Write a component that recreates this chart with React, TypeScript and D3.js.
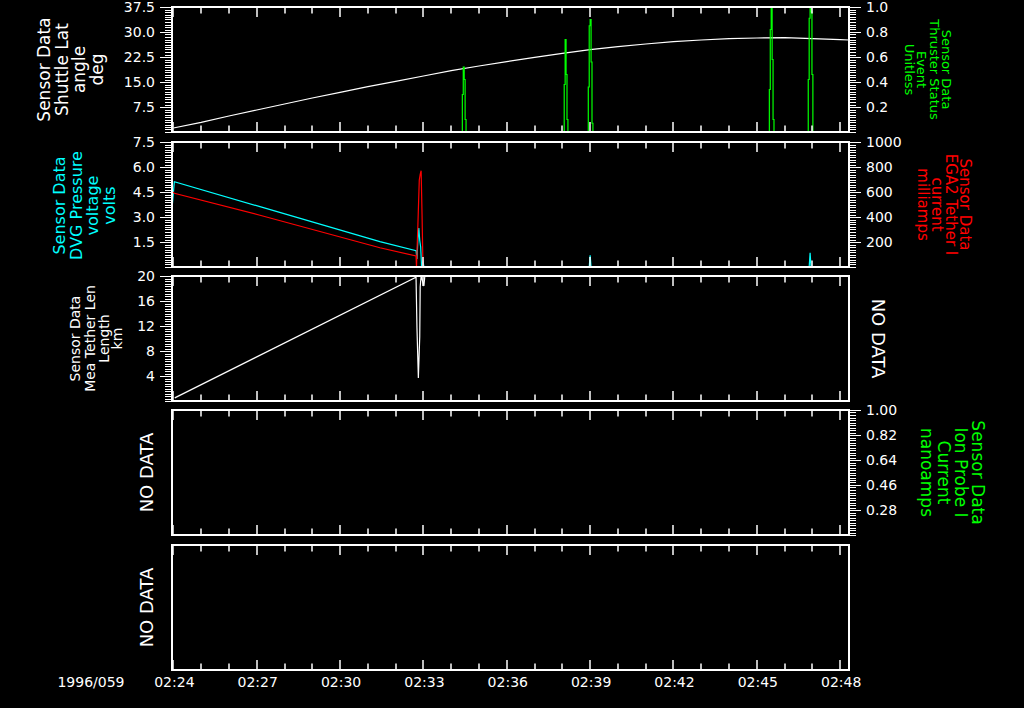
import React from "react";
import * as d3 from "d3";

// ---------- layout constants ----------
const W = 1024;
const H = 708;
const X0 = 172;
const X1 = 849;
const PANEL_TOPS = [7, 142, 276, 410, 545];
const PH = 125;
const FONT = "'DejaVu Sans', Verdana, sans-serif";

// ---------- data ----------
const dateLabel = "1996/059";
const timeStart = "02:23:57";
const timeEnd = "02:48:19";

// Panel 1: Shuttle Lat (deg, left axis)
const latTimes = [
  "02:24:00", "02:25:00", "02:26:00", "02:27:00", "02:28:00", "02:29:00", "02:30:00",
  "02:31:00", "02:32:00", "02:33:00", "02:34:00", "02:35:00", "02:36:00", "02:37:00",
  "02:38:00", "02:39:00", "02:40:00", "02:41:00", "02:42:00", "02:43:00", "02:44:00",
  "02:45:00", "02:46:00", "02:47:00", "02:48:00", "02:48:19",
];
const latValues = [
  1.2, 2.9, 4.8, 6.6, 8.4, 10.2, 11.9, 13.6, 15.2, 16.8, 18.4, 19.8, 21.1, 22.4,
  23.6, 24.7, 25.6, 26.4, 27.1, 27.6, 28.0, 28.2, 28.3, 28.0, 27.7, 27.6,
];
// Panel 1: Thruster Status events (unitless, right axis), bursts sampled every 2 s
const thrusterStarts = ["02:34:24", "02:38:04", "02:38:56", "02:45:27", "02:46:51"];
const thrusterValues = [
  [0.3, 0.52, 0.42, 0.1],
  [0.38, 0.74, 0.46, 0.1],
  [0.36, 0.85, 0.9, 0.56, 0.07],
  [0.34, 0.82, 0.99, 0.58, 0.1],
  [0.42, 0.91, 1.0, 0.96, 0.46],
];

// Panel 2: DVG Pressure voltage (volts, left) and EGA2 Tether I current (mA, right)
const dvgTimes = [
  "02:23:58", "02:24:02", "02:27:07", "02:31:26", "02:32:44", "02:32:46", "02:32:48",
  "02:32:50", "02:32:52", "02:32:54", "02:32:56", "02:32:59", "02:33:01", "02:38:58",
  "02:39:00", "02:39:02", "02:46:53", "02:46:55", "02:46:57", "02:48:19",
];
const dvgValues = [
  3.8, 5.12, 3.62, 1.52, 0.98, 0.48, 1.6, 2.34, 1.6, 1.2, 0, 0.4, 0, 0, 0.7, 0, 0, 0.85, 0, 0,
];
const egaTimes = [
  "02:23:58", "02:24:02", "02:27:07", "02:31:26", "02:32:44", "02:32:45", "02:32:48",
  "02:32:51", "02:32:53", "02:32:55", "02:32:57", "02:32:59", "02:48:19",
];
const egaValues = [602, 590, 414, 154, 88, 0, 336, 696, 742, 770, 416, 0, 0];

// Panel 3: Mea Tether Len (km)
const tetherTimes = [
  "02:24:03", "02:32:44", "02:32:46", "02:32:49", "02:32:52", "02:32:53", "02:32:55",
  "02:33:01", "02:33:03",
];
const tetherValues = [0.5, 19.8, 11.7, 3.7, 10.3, 18.3, 20, 18.4, 20];

// axis ticks
const latTicks = [7.5, 15, 22.5, 30, 37.5];
const thrusterTicks = [0.2, 0.4, 0.6, 0.8, 1.0];
const dvgTicks = [1.5, 3.0, 4.5, 6.0, 7.5];
const egaTicks = [200, 400, 600, 800, 1000];
const tetherTicks = [4, 8, 12, 16, 20];
const ionTicks = [0.28, 0.46, 0.64, 0.82, 1.0];

// labels
const latLabel = ["Sensor Data", "Shuttle Lat", "angle", "deg"];
const thrusterLabel = ["Sensor Data", "Thruster Status", "Event", "Unitless"];
const dvgLabel = ["Sensor Data", "DVG Pressure", "voltage", "volts"];
const egaLabel = ["Sensor Data", "EGA2 Tether I", "current", "milliamps"];
const tetherLabel = ["Sensor Data", "Mea Tether Len", "Length", "km"];
const ionLabel = ["Sensor Data", "Ion Probe I", "Current", "nanoamps"];
const noData = "NO DATA";

// ---------- helpers ----------
const parse = (s: string) => new Date(`1996-02-28T${s}Z`);
const x = d3.scaleUtc().domain([parse(timeStart), parse(timeEnd)]).range([X0, X1]);

const yScale = (i: number, d0: number, d1: number) =>
  d3.scaleLinear().domain([d0, d1]).range([PANEL_TOPS[i] + PH, PANEL_TOPS[i]]);

const yLat = yScale(0, 0, 37.5);
const yThr = yScale(0, 0, 1.0);
const yDvg = yScale(1, 0, 7.5);
const yEga = yScale(1, 0, 1000);
const yTet = yScale(2, 0, 20);
const yIon = yScale(3, 0.1, 1.0);

function seriesPath(times: string[], vals: number[], y: d3.ScaleLinear<number, number>) {
  const pts: [number, number][] = times.map((t, i) => [x(parse(t)), y(vals[i])]);
  return d3.line().curve(d3.curveLinear)(pts) || "";
}

function burstPath(start: string, vals: number[], y: d3.ScaleLinear<number, number>) {
  const t0 = parse(start).getTime();
  const pts: [number, number][] = [[x(new Date(t0 - 1000)), y(0)]];
  vals.forEach((v, i) => pts.push([x(new Date(t0 + i * 2000)), y(v)]));
  pts.push([x(new Date(t0 + vals.length * 2000)), y(0)]);
  return d3.line().curve(d3.curveStepAfter)(pts) || "";
}

function Ruler(props: {
  y: d3.ScaleLinear<number, number>;
  side: "left" | "right";
  ticks: number[];
  fmt: (v: number) => string;
}) {
  const { y, side, ticks, fmt } = props;
  const [d0, d1] = y.domain();
  const step = (d1 - d0) / 50;
  const minors = d3.range(51).map((i) => d0 + i * step);
  const dir = side === "left" ? -1 : 1;
  const x0 = side === "left" ? X0 : X1;
  const py = (v: number) => Math.round(y(v)) + 0.5;
  return (
    <g>
      {minors.map((v, i) => (
        <line key={"m" + i} x1={x0} x2={x0 + dir * 7} y1={py(v)} y2={py(v)} stroke="#fff" strokeWidth={1} shapeRendering="crispEdges" />
      ))}
      {ticks.map((v, i) => (
        <line key={"M" + i} x1={x0} x2={x0 + dir * 12} y1={py(v)} y2={py(v)} stroke="#fff" strokeWidth={1.5} shapeRendering="crispEdges" />
      ))}
      {ticks.map((v, i) => (
        <text key={"t" + i} x={x0 + dir * 17} y={y(v)} dy="0.36em" fill="#fff" fontSize={14} fontFamily={FONT}
          textAnchor={side === "left" ? "end" : "start"}>{fmt(v)}</text>
      ))}
    </g>
  );
}

function Label(props: { lines: string[]; baselines: number[]; cy: number; side: "left" | "right"; color: string; size: number }) {
  const { lines, baselines, cy, side, color, size } = props;
  return (
    <g>
      {lines.map((s, i) => (
        <text key={i} transform={`translate(${baselines[i]},${cy}) rotate(${side === "left" ? -90 : 90})`}
          textAnchor="middle" fill={color} fontSize={size} fontFamily={FONT}>{s}</text>
      ))}
    </g>
  );
}

function Frame({ i }: { i: number }) {
  const top = PANEL_TOPS[i];
  const bot = top + PH;
  const minutes = x.ticks(d3.utcMinute.every(1) as any);
  return (
    <g>
      <rect x={X0} y={top} width={X1 - X0} height={PH} fill="none" stroke="#fff" strokeWidth={2} />
      {minutes.map((m, k) => {
        const major = m.getUTCMinutes() % 3 === 0;
        const len = major ? 10 : 6.5;
        const xx = Math.round(x(m));
        return (
          <g key={k}>
            <line x1={xx} x2={xx} y1={top} y2={top + len} stroke="#fff" strokeWidth={1.5} />
            <line x1={xx} x2={xx} y1={bot} y2={bot - len} stroke="#fff" strokeWidth={1.5} />
          </g>
        );
      })}
    </g>
  );
}

export default function App() {
  const f1 = (v: number) => v.toFixed(1);
  const f0 = (v: number) => v.toFixed(0);
  const f2 = (v: number) => v.toFixed(2);
  const bottom = PANEL_TOPS[4] + PH;
  const majorTimes = x.ticks(d3.utcMinute.every(3) as any);
  const fmtTime = d3.utcFormat("%H:%M");
  const cy = (i: number) => PANEL_TOPS[i] + PH / 2;
  return (
    <svg width={W} height={H} style={{ position: "absolute", left: 0, top: 0, background: "#000" }}>
      <rect x={0} y={0} width={W} height={H} fill="#000" />
      <defs>
        {PANEL_TOPS.map((t, i) => (
          <clipPath id={"clip" + i} key={i}>
            <rect x={X0} y={t} width={X1 - X0} height={PH} />
          </clipPath>
        ))}
      </defs>

      {/* Panel 1 data */}
      <g clipPath="url(#clip0)">
        <path d={seriesPath(latTimes, latValues, yLat)} fill="none" stroke="#fff" strokeWidth={1.2} />
        {thrusterStarts.map((s, i) => (
          <path key={i} d={burstPath(s, thrusterValues[i], yThr)} fill="none" stroke="#00ff00" strokeWidth={1.2} />
        ))}
      </g>
      {/* Panel 2 data */}
      <g clipPath="url(#clip1)">
        <path d={seriesPath(dvgTimes, dvgValues, yDvg)} fill="none" stroke="#00ffff" strokeWidth={1.2} />
        <path d={seriesPath(egaTimes, egaValues, yEga)} fill="none" stroke="#ff0000" strokeWidth={1.2} />
      </g>
      {/* Panel 3 data */}
      <g clipPath="url(#clip2)">
        <path d={seriesPath(tetherTimes, tetherValues, yTet)} fill="none" stroke="#fff" strokeWidth={1.2} />
      </g>

      {PANEL_TOPS.map((_, i) => <Frame key={i} i={i} />)}

      <Ruler y={yLat} side="left" ticks={latTicks} fmt={f1} />
      <Ruler y={yThr} side="right" ticks={thrusterTicks} fmt={f1} />
      <Ruler y={yDvg} side="left" ticks={dvgTicks} fmt={f1} />
      <Ruler y={yEga} side="right" ticks={egaTicks} fmt={f0} />
      <Ruler y={yTet} side="left" ticks={tetherTicks} fmt={f0} />
      <Ruler y={yIon} side="right" ticks={ionTicks} fmt={f2} />

      <Label lines={latLabel} baselines={[50, 67.5, 85, 102.5]} cy={cy(0)} side="left" color="#fff" size={17} />
      <Label lines={thrusterLabel} baselines={[942, 929.5, 917, 904.5]} cy={cy(0)} side="right" color="#00ff00" size={13} />
      <Label lines={dvgLabel} baselines={[65, 81.5, 98, 114.5]} cy={cy(1) + 1} side="left" color="#00ffff" size={16} />
      <Label lines={egaLabel} baselines={[960, 946, 932, 918]} cy={cy(1)} side="right" color="#ff0000" size={15} />
      <Label lines={tetherLabel} baselines={[80, 94.5, 108.5, 122]} cy={cy(2)} side="left" color="#fff" size={14} />
      <Label lines={[noData]} baselines={[872]} cy={cy(2)} side="right" color="#fff" size={18} />
      <Label lines={[noData]} baselines={[153]} cy={cy(3)} side="left" color="#fff" size={18} />
      <Label lines={ionLabel} baselines={[972, 955, 938, 921]} cy={cy(3)} side="right" color="#00ff00" size={17} />
      <Label lines={[noData]} baselines={[153]} cy={cy(4)} side="left" color="#fff" size={18} />

      {majorTimes.map((t, i) => (
        <text key={i} x={x(t) + 1} y={bottom + 17} textAnchor="middle" fill="#fff" fontSize={14} fontFamily={FONT}>
          {fmtTime(t)}
        </text>
      ))}
      <text x={91} y={bottom + 17} textAnchor="middle" fill="#fff" fontSize={14} fontFamily={FONT}>{dateLabel}</text>
    </svg>
  );
}
